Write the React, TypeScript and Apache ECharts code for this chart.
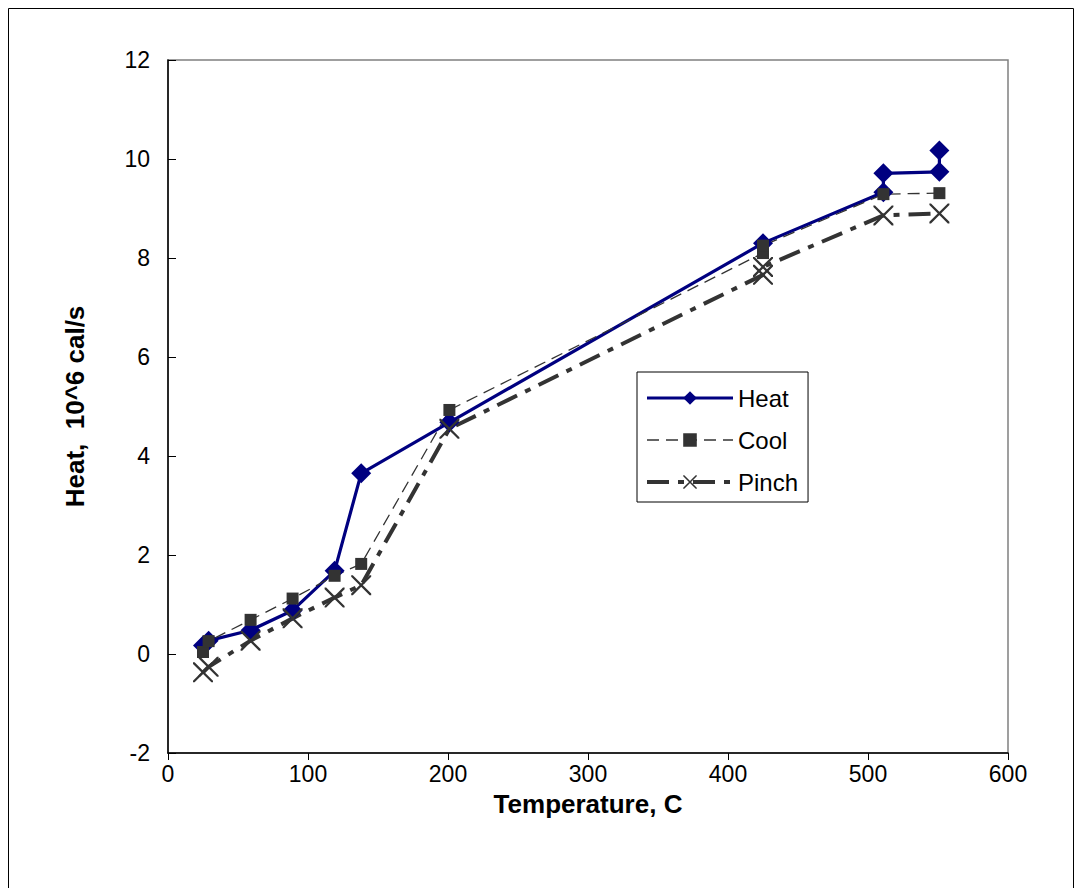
import React, { useEffect, useRef } from "react";
import * as echarts from "echarts";

const seriesNames = ["Heat", "Cool", "Pinch"];

const heatData: [number, number][] = [
  [25, 0.17], [29, 0.27], [59, 0.48], [89, 0.88], [119, 1.68], [138, 3.65],
  [201, 4.68], [425, 8.3], [511, 9.33], [511, 9.71], [551, 9.74], [551, 10.17],
];

const coolData: [number, number][] = [
  [25, 0.04], [29, 0.26], [59, 0.69], [89, 1.12], [119, 1.58], [138, 1.82],
  [201, 4.93], [425, 8.1], [425, 8.25], [511, 9.29], [551, 9.31],
];

const pinchData: [number, number][] = [
  [25, -0.37], [29, -0.26], [59, 0.27], [89, 0.72], [119, 1.14], [138, 1.39],
  [201, 4.55], [425, 7.66], [425, 7.82], [511, 8.86], [551, 8.9],
];

const xAxisTitle = "Temperature, C";
const yAxisTitle = "Heat,  10^6 cal/s";

const FONT = "'Liberation Sans', Arial, sans-serif";
const X_SYMBOL =
  "path://M0,0 L0.8,0 L10,9.2 L10,10 L9.2,10 L0,0.8 Z M9.2,0 L10,0 L10,0.8 L0.8,10 L0,10 L0,9.2 Z";

export default function App() {
  const ref = useRef<HTMLDivElement>(null);

  useEffect(() => {
    if (!ref.current) return;
    const chart = echarts.init(ref.current, undefined, { renderer: "svg" });
    chart.setOption({
      animation: false,
      backgroundColor: "#ffffff",
      textStyle: { fontFamily: FONT },
      graphic: [
        {
          type: "rect",
          shape: { x: 8.5, y: 8.5, width: 1065, height: 890 },
          style: { fill: "none", stroke: "#000", lineWidth: 1 },
          silent: true,
        },
      ],
      grid: {
        left: 168,
        right: 74,
        top: 60,
        bottom: 135,
        show: true,
        borderColor: "#808080",
        borderWidth: 1.5,
        backgroundColor: "#fff",
      },
      legend: {
        orient: "vertical",
        left: 637,
        top: 372,
        data: seriesNames,
        backgroundColor: "#fff",
        borderColor: "#000",
        borderWidth: 1,
        borderRadius: 0,
        padding: [14, 10, 8, 8],
        itemGap: 18,
        itemWidth: 86,
        itemHeight: 17,
        itemTextGap: 9,
        lineStyle: { width: "inherit" },
        textStyle: { fontSize: 24, color: "#000", fontFamily: FONT },
      },
      xAxis: {
        type: "value",
        min: 0,
        max: 600,
        interval: 100,
        name: xAxisTitle,
        nameLocation: "middle",
        nameGap: 38,
        nameMoveOverlap: false,
        nameTextStyle: { fontSize: 26, fontWeight: "bold", color: "#000", fontFamily: FONT },
        axisLine: { show: true, onZero: false, lineStyle: { color: "#000", width: 1.5 } },
        axisTick: { show: true, inside: false, length: 7, lineStyle: { color: "#000" } },
        axisLabel: { fontSize: 23, color: "#000", margin: 9, fontFamily: FONT },
        splitLine: { show: false },
      },
      yAxis: {
        type: "value",
        min: -2,
        max: 12,
        interval: 2,
        name: yAxisTitle,
        nameLocation: "middle",
        nameGap: 80,
        nameMoveOverlap: false,
        nameTextStyle: { fontSize: 26, fontWeight: "bold", color: "#000", fontFamily: FONT },
        axisLine: { show: true, onZero: false, lineStyle: { color: "#000", width: 1.5 } },
        axisTick: { show: true, inside: true, length: 8, lineStyle: { color: "#000" } },
        axisLabel: { fontSize: 23, color: "#000", margin: 18, fontFamily: FONT },
        splitLine: { show: false },
      },
      series: [
        {
          name: "Heat",
          type: "line",
          data: heatData,
          symbol: "diamond",
          symbolSize: 20,
          itemStyle: { color: "#000080" },
          lineStyle: { color: "#000080", width: 3.2 },
        },
        {
          name: "Cool",
          type: "line",
          data: coolData,
          symbol: "rect",
          symbolSize: 12,
          itemStyle: { color: "#333333" },
          lineStyle: { color: "#333333", width: 1.3, type: [12, 7] },
        },
        {
          name: "Pinch",
          type: "line",
          data: pinchData,
          symbol: X_SYMBOL,
          symbolSize: 20,
          itemStyle: { color: "#333333" },
          lineStyle: { color: "#333333", width: 4, type: [22, 9, 6, 9] },
        },
      ],
    });
    return () => chart.dispose();
  }, []);

  return (
    <div
      ref={ref}
      style={{ position: "absolute", left: 0, top: 0, width: 1082, height: 888 }}
    />
  );
}
